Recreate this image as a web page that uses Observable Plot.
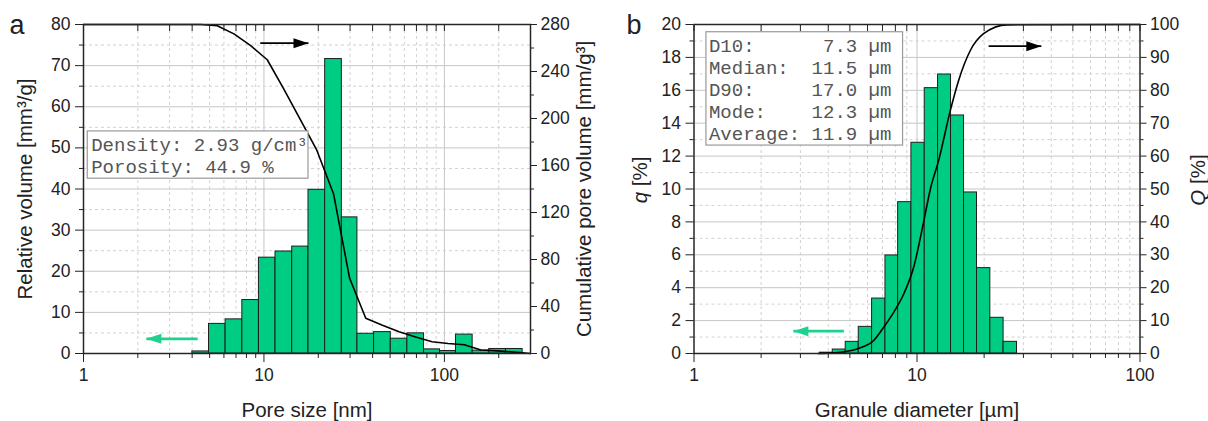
<!DOCTYPE html>
<html><head><meta charset="utf-8">
<script src="https://cdn.jsdelivr.net/npm/d3@7"></script>
<script src="https://cdn.jsdelivr.net/npm/@observablehq/plot@0.6"></script>
<style>
body{margin:0;background:#fff;}
#wrap{position:relative;width:1208px;height:421px;overflow:hidden;background:#fff;}
#pa,#pb{position:absolute;top:0;}
#pa{left:0}#pb{left:604px}
</style></head><body>
<div id="wrap"><div id="pa"></div><div id="pb"></div></div>
<script>
// ---------- Panel a: pore size distribution ----------
const poreEdges = [4.01, 4.96, 6.13, 7.59, 9.38, 11.59, 14.34, 17.65, 21.84, 27.02, 32.96, 40.77, 50.44, 62.33, 77.11, 94.56, 115.9, 143.4, 177.2, 219.3, 271.3];
const poreVolume = [0.5, 7.2, 8.3, 13.0, 23.3, 24.8, 26.0, 39.8, 71.6, 33.1, 4.8, 5.2, 3.6, 4.9, 1.0, 0.6, 4.6, 0.7, 1.1, 1.1];
const cumPoreSize = [1, 4.46, 5.51, 6.82, 8.44, 10.43, 12.89, 15.91, 19.63, 24.29, 29.84, 36.66, 45.35, 56.07, 69.33, 85.39, 104.7, 128.9, 159.4, 197.1, 243.9, 300];
const cumPoreVolume = [280, 280, 279, 272, 262, 250, 225, 199, 173, 136, 64, 30, 24, 18.5, 14, 10, 8.5, 7.5, 3, 2.2, 1.2, 0];

// ---------- Panel b: granule size distribution ----------
const granEdges = [3.67, 4.19, 4.79, 5.48, 6.29, 7.22, 8.23, 9.44, 10.83, 12.43, 14.21, 16.25, 18.58, 21.32, 24.45, 28.08];
const granQ = [0.05, 0.24, 0.71, 1.62, 3.34, 5.96, 9.2, 12.81, 16.13, 16.96, 14.47, 9.79, 5.19, 2.17, 0.71];
const cumDiam = [3.6, 4.2, 4.7, 5.5, 6.4, 7.09, 7.87, 8.72, 9.66, 10.71, 11.48, 12.51, 14.11, 15.37, 17.34, 19.89, 25.3, 100];
const cumQ = [0, 0.2, 0.5, 1.6, 4.0, 8.0, 12.6, 18.1, 26.2, 40, 50, 58.7, 73.9, 83, 92.1, 97.2, 99.9, 100];

// ---------- ticks ----------
const xMajorTicks = [1, 10, 100];
const xMinorTicksA = [2, 3, 4, 5, 6, 7, 8, 9, 20, 30, 40, 50, 60, 70, 80, 90, 200];
const xMinorTicksB = [2, 3, 4, 5, 6, 7, 8, 9, 20, 30, 40, 50, 60, 70, 80, 90];
const yTicksA = [0, 10, 20, 30, 40, 50, 60, 70, 80];
const yMinorA = [5, 15, 25, 35, 45, 55, 65, 75];
const rTicksA = [0, 40, 80, 120, 160, 200, 240, 280];
const rMinorA = [20, 60, 100, 140, 180, 220, 260];
const yTicksB = [0, 2, 4, 6, 8, 10, 12, 14, 16, 18, 20];
const yMinorB = [1, 3, 5, 7, 9, 11, 13, 15, 17, 19];
const rTicksB = [0, 10, 20, 30, 40, 50, 60, 70, 80, 90, 100];
const rMinorB = [5, 15, 25, 35, 45, 55, 65, 75, 85, 95];

// ---------- texts ----------
const infoA = "Density: 2.93 g/cm³\nPorosity: 44.9 %";
const infoB = ["D10:      7.3 µm", "Median:  11.5 µm", "D90:     17.0 µm", "Mode:    12.3 µm", "Average: 11.9 µm"].join("\n").replace(/ /g, "\u00A0");

const green = "#00cd84";
const arrowGreen = "#1fd08e";
const ink = "#222";
const head = {draw(ctx) { ctx.moveTo(0, 0); ctx.lineTo(-15, -5); ctx.lineTo(-15, 5); ctx.closePath(); }};

function makePanel(c) {
  const bars = c.values.map((v, i) => ({lo: c.edges[i], hi: c.edges[i + 1], v}));
  const line = c.lineX.map((x, i) => ({x, y: c.lineY[i] * c.k}));
  const dashed = {stroke: "#d2d2d2", strokeOpacity: 1, strokeDasharray: "3,3", strokeWidth: 1};
  const solid = {stroke: "#c6c6c6", strokeOpacity: 1, strokeWidth: 1};
  const arrowMarks = c.arrows.flatMap(a => [
    Plot.link([a], {x1: "x1", y1: "y", x2: "x2", y2: "y", stroke: a.color, strokeWidth: a.w}),
    Plot.dot([a], {x: "x2", y: "y", symbol: head, fill: a.color, stroke: "none", rotate: a.rot})
  ]);
  return Plot.plot({
    width: 604, height: 421,
    marginLeft: c.ml, marginRight: c.mr, marginTop: 24, marginBottom: 68,
    x: {type: "log", domain: c.xDomain},
    y: {domain: c.yDomain},
    style: {fontFamily: "'Liberation Sans', Arial, sans-serif", fontSize: "17.5px", color: ink, background: "transparent", overflow: "visible"},
    marks: [
      Plot.gridX(c.xMinor, dashed),
      Plot.gridX(c.xGrid, solid),
      Plot.gridY(c.yMinor, dashed),
      Plot.gridY(c.yGrid, solid),
      Plot.rect(bars, {x1: "lo", x2: "hi", y1: () => 0, y2: "v", fill: green, stroke: "#1e1e1e", strokeWidth: 1}),
      Plot.line(line, {x: "x", y: "y", stroke: "#000", strokeWidth: 1.6, curve: c.curve}),
      Plot.rect([c.box], {x1: "x1", x2: "x2", y1: "y1", y2: "y2", fill: "white", stroke: "#9a9a9a", strokeWidth: 1.2}),
      Plot.text([c.info], {x: () => c.infoX, y: () => c.infoY, text: d => d, textAnchor: "start", lineAnchor: "middle", lineHeight: 1.15, fontFamily: "'Liberation Mono', 'Courier New', monospace", fontSize: 19, fill: "#555"}),
      ...arrowMarks,
      Plot.frame({stroke: "#262626", strokeWidth: 1.5}),
      Plot.axisX(xMajorTicks, {anchor: "bottom", tickSize: 9, tickPadding: 6, tickFormat: d => String(d), label: null}),
      Plot.axisX(c.xMinor, {anchor: "bottom", tickSize: 5, tickFormat: () => "", label: null}),
      Plot.axisX([...xMajorTicks, ...c.xMinor], {anchor: "top", tickSize: -6, tickFormat: () => "", label: null}),
      Plot.axisY(c.yTicks, {anchor: "left", tickSize: 8, tickPadding: 5, tickFormat: d => String(d), label: null}),
      Plot.axisY(c.yMinor, {anchor: "left", tickSize: 4, tickFormat: () => "", label: null}),
      Plot.axisY(c.rTicks.map(v => v * c.k), {anchor: "right", tickSize: 6, tickPadding: 4, tickFormat: d => String(Math.round(d / c.k)), label: null}),
      Plot.axisY(c.rMinor.map(v => v * c.k), {anchor: "right", tickSize: 3, tickFormat: () => "", label: null}),
      Plot.text([c.xTitle], {frameAnchor: "bottom", dy: 63, lineAnchor: "bottom", text: d => d, fontSize: 20.5}),
      Plot.text([c.yTitle], {frameAnchor: "left", dx: c.yTitleDx, dy: c.titleDy, rotate: -90, textAnchor: "middle", lineAnchor: "middle", text: d => d, fontSize: 20.5, className: "ttl"}),
      Plot.text([c.rTitle], {frameAnchor: "right", dx: c.rTitleDx, dy: c.titleDy, rotate: -90, textAnchor: "middle", lineAnchor: "middle", text: d => d, fontSize: 20.5, className: "ttl"}),
      Plot.text([c.letter], {frameAnchor: "top-left", dx: c.letterDx, dy: 9, textAnchor: "start", lineAnchor: "bottom", text: d => d, fontSize: 27})
    ]
  });
}

// italic quantity symbol, upright unit
function italicizeSymbol(svg) {
  svg.querySelectorAll("text").forEach(t => {
    const s = t.textContent;
    const m = /^([qQ]) (\[%\])$/.exec(s);
    if (m && t.children.length === 0) {
      t.textContent = "";
      const ns = "http://www.w3.org/2000/svg";
      const a = document.createElementNS(ns, "tspan");
      a.setAttribute("font-style", "italic");
      a.textContent = m[1];
      const b = document.createElementNS(ns, "tspan");
      b.textContent = " " + m[2];
      t.appendChild(a); t.appendChild(b);
    }
  });
}

const kA = 80 / 280, kB = 20 / 100;

const plotA = makePanel({
  values: poreVolume, edges: poreEdges, lineX: cumPoreSize, lineY: cumPoreVolume, k: kA, curve: "linear",
  ml: 83, mr: 74, xDomain: [1, 300], yDomain: [0, 80],
  xMinor: xMinorTicksA, xGrid: [10, 100], yMinor: yMinorA, yGrid: [10, 20, 30, 40, 50, 60, 70],
  yTicks: yTicksA, rTicks: rTicksA, rMinor: rMinorA,
  box: {x1: 1.056, x2: 17.65, y1: 42.5, y2: 54.0}, info: infoA, infoX: 1.103, infoY: 48.17,
  arrows: [
    {x1: 9.54, x2: 17.65, y: 75.45, color: "#000", w: 1.7, rot: 0},
    {x1: 4.29, x2: 2.23, y: 3.57, color: arrowGreen, w: 2.7, rot: 180}
  ],
  xTitle: "Pore size [nm]", yTitle: "Relative volume [mm³/g]", rTitle: "Cumulative pore volume [mm/g³]",
  yTitleDx: -58, rTitleDx: 54, titleDy: 0, letter: "a", letterDx: -74
});

const plotB = makePanel({
  values: granQ, edges: granEdges, lineX: cumDiam, lineY: cumQ, k: kB, curve: "monotone-x",
  ml: 89.5, mr: 68.5, xDomain: [1, 100], yDomain: [0, 20],
  xMinor: xMinorTicksB, xGrid: [10], yMinor: yMinorB, yGrid: [2, 4, 6, 8, 10, 12, 14, 16, 18],
  yTicks: yTicksB, rTicks: rTicksB, rMinor: rMinorB,
  box: {x1: 1.137, x2: 8.66, y1: 12.64, y2: 19.53}, info: infoB, infoX: 1.167, infoY: 16.08,
  arrows: [
    {x1: 20.95, x2: 36.1, y: 18.68, color: "#000", w: 1.7, rot: 0},
    {x1: 4.70, x2: 2.79, y: 1.36, color: arrowGreen, w: 2.7, rot: 180}
  ],
  xTitle: "Granule diameter [µm]", yTitle: "q [%]", rTitle: "Q [%]",
  yTitleDx: -53.5, rTitleDx: 58, titleDy: -9, letter: "b", letterDx: -67.5
});

italicizeSymbol(plotB);
document.getElementById("pa").appendChild(plotA);
document.getElementById("pb").appendChild(plotB);
</script>
</body></html>
